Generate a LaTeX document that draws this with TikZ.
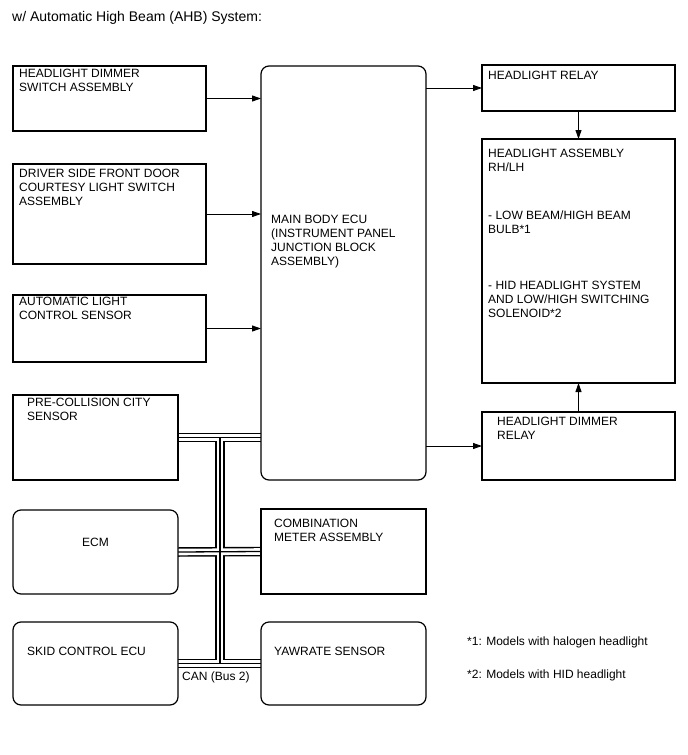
\documentclass[tikz,border=0pt]{standalone}
\usepackage{fontspec}
\setmainfont{Liberation Sans}
\usetikzlibrary{arrows.meta}
\pgfdeclarelayer{background}
\pgfsetlayers{background,main}
\begin{document}
\begin{tikzpicture}[x=1pt,y=-1pt,
  box/.style={draw=black, line width=1.2pt, fill=white, inner sep=0pt, outer sep=0pt},
  rbox/.style={box, rounded corners=8pt},
  lbl/.style={anchor=base west, inner sep=0pt, align=left, font=\fontsize{12}{14}\selectfont},
  conn/.style={draw=black, line width=0.9pt, -{Triangle[length=9pt,width=6pt]}},
  busA/.style={draw=black, line width=9.5pt},
  busB/.style={draw=white, line width=6.6pt},
  busC/.style={draw=black, line width=1.3pt}
]
\useasboundingbox (0,0) rectangle (688,755);

% title
\node[lbl, font=\fontsize{14}{16}\selectfont] (title) at (12,21.8) {w/ Automatic High Beam (AHB) System:};

% left column
\node[box, minimum width=193pt, minimum height=65pt] (b1) at (109.5,98.5) {};
\node[box, minimum width=193pt, minimum height=100pt] (b2) at (109.5,214) {};
\node[box, minimum width=193pt, minimum height=67pt] (b3) at (109.5,328.5) {};
\node[box, minimum width=165pt, minimum height=85pt] (pcs) at (95.5,437.5) {};
\node[rbox, minimum width=165pt, minimum height=84pt] (ecm) at (95.5,552) {};
\node[rbox, minimum width=165pt, minimum height=83pt] (skid) at (95.5,663.5) {};

% middle column
\node[rbox, minimum width=165pt, minimum height=414pt] (ecu) at (343.5,273) {};
\node[box, minimum width=165pt, minimum height=85pt] (comb) at (343.5,551.5) {};
\node[rbox, minimum width=165pt, minimum height=83pt] (yaw) at (343.5,663.5) {};

% right column
\node[box, minimum width=193pt, minimum height=46pt] (relay) at (578.5,88) {};
\node[box, minimum width=193pt, minimum height=244pt] (assy) at (578.5,261) {};
\node[box, minimum width=193pt, minimum height=68pt] (drelay) at (578.5,446) {};

% labels (anchor = baseline of the last line)
\node[lbl] (t1) at (19,91.4) {HEADLIGHT DIMMER\\SWITCH ASSEMBLY};
\node[lbl] (t2) at (19,205.4) {DRIVER SIDE FRONT DOOR\\COURTESY LIGHT SWITCH\\ASSEMBLY};
\node[lbl] (t3) at (19,319.4) {AUTOMATIC LIGHT\\CONTROL SENSOR};
\node[lbl] (t4) at (27,420.4) {PRE-COLLISION CITY\\SENSOR};
\node[lbl] (t5) at (82,546.4) {ECM};
\node[lbl] (t6) at (27,655.4) {SKID CONTROL ECU};
\node[lbl] (t7) at (271,265.4) {MAIN BODY ECU\\(INSTRUMENT PANEL\\JUNCTION BLOCK\\ASSEMBLY)};
\node[lbl] (t8) at (274,541.4) {COMBINATION\\METER ASSEMBLY};
\node[lbl] (t9) at (274,655.4) {YAWRATE SENSOR};
\node[lbl] (t10) at (488,79.4) {HEADLIGHT RELAY};
\node[lbl] (t11) at (488,317.4) {HEADLIGHT ASSEMBLY\\RH/LH\\[34pt]- LOW BEAM/HIGH BEAM\\BULB*1\\[42pt]- HID HEADLIGHT SYSTEM\\AND LOW/HIGH SWITCHING\\SOLENOID*2};
\node[lbl] (t12) at (497,439.7) {HEADLIGHT DIMMER\\RELAY};
\node[lbl] (can) at (182,680.4) {CAN (Bus 2)};
\node[lbl] (fn1) at (467,645.7) {*1: Models with halogen headlight};
\node[lbl] (fn2) at (467,678) {*2: Models with HID headlight};

% arrows
\draw[conn] (b1.east) -- (b1.east -| ecu.west);
\draw[conn] (b2.east) -- (b2.east -| ecu.west);
\draw[conn] (b3.east) -- (b3.east -| ecu.west);
\draw[conn] (relay.west -| ecu.east) -- (relay.west);
\draw[conn] (drelay.west -| ecu.east) -- (drelay.west);
\draw[conn] (relay.south) -- (assy.north);
\draw[conn] (drelay.north) -- (assy.south);

% CAN bus
\coordinate (bx) at (220,0);
\begin{pgfonlayer}{background}
\foreach \st in {busA,busB,busC}{
  \draw[\st] (pcs.east) -- (pcs.east -| ecu.west);
  \draw[\st] (ecm.east) -- (comb.west);
  \draw[\st] (skid.east) -- (yaw.west);
  \draw[\st] (bx |- pcs.east) -- (bx |- skid.east);
}
\end{pgfonlayer}
\end{tikzpicture}
\end{document}
